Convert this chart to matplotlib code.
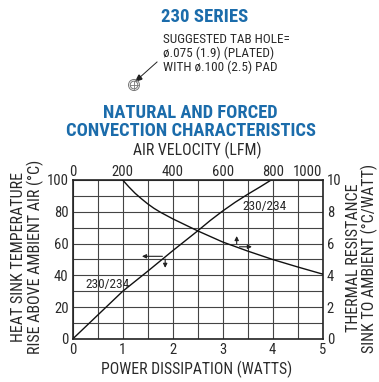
import matplotlib
matplotlib.use('Agg')
import matplotlib.pyplot as plt
from matplotlib import font_manager
from matplotlib.patches import Circle
import numpy as np

# pick a condensed sans if there is one
available = set(f.name for f in font_manager.fontManager.ttflist)
FONT = 'DejaVu Sans'
for name in ['Liberation Sans Narrow', 'DejaVu Sans Condensed', 'Roboto Condensed', 'Liberation Sans']:
    if name in available:
        FONT = name
        break
plt.rcParams['font.family'] = [FONT, 'DejaVu Sans']

BLUE = '#1b6cab'
TXT = '#2a2a2a'

# temperature rise vs power (bottom / left axes)
power_w = [0, 0.5, 1.0, 1.5, 2.0, 2.5, 2.75, 3.0, 3.25, 3.5, 3.75, 3.97]
temp_rise_c = [0, 15, 30, 42.6, 55.5, 68, 74.5, 80.5, 86, 91, 95.7, 100]

# thermal resistance vs air velocity (top / right axes)
air_lfm = [200, 225, 250, 275, 300, 325, 350, 400, 450, 500, 600, 700, 800, 900, 1000]
resist_cw = [10, 9.56, 9.16, 8.82, 8.5, 8.22, 7.98, 7.56, 7.18, 6.8, 6.1, 5.53, 5.0, 4.53, 4.08]

power_ticks = [0, 1, 2, 3, 4, 5]
temp_ticks = [0, 20, 40, 60, 80, 100]
lfm_ticks = [0, 200, 400, 600, 800, 1000]
res_ticks = [0, 2, 4, 6, 8, 10]

fig = plt.figure(figsize=(3.79, 3.82), dpi=100)
pos = [0.1918, 0.1126, 0.6596, 0.4162]

ax = fig.add_axes(pos)
ax.set_xlim(0, 5)
ax.set_ylim(0, 100)
ax.set_xticks(power_ticks)
ax.set_yticks(temp_ticks)
ax.set_xticks(np.arange(0, 5.01, 0.5), minor=True)
ax.set_yticks(np.arange(0, 101, 10), minor=True)
ax.grid(which='both', color='#444444', linewidth=0.8)
ax.tick_params(which='both', length=0, labelsize=10.5, colors=TXT, pad=3)
for s in ax.spines.values():
    s.set_linewidth(1.2)
    s.set_color('#222222')
ax.plot(power_w, temp_rise_c, color='#111111', lw=1.0)

ax2 = fig.add_axes(pos, frameon=False)
ax2.set_xlim(0, 1000)
ax2.set_ylim(0, 10)
ax2.xaxis.tick_top()
ax2.yaxis.tick_right()
ax2.set_xticks(lfm_ticks)
ax2.set_yticks(res_ticks)
ax2.tick_params(length=0, labelsize=10.5, colors=TXT, pad=3)
ax2.tick_params(axis='x', pad=1)
ax2.get_xticklabels()[-1].set_ha('right')
ax2.plot(air_lfm, resist_cw, color='#111111', lw=1.0)

# curve labels and direction arrows
ax.text(0.25, 30, '230/234', fontsize=9.5, color=TXT, va='bottom')
ax2.text(680, 7.95, '230/234', fontsize=9.5, color=TXT, va='bottom')
arr = dict(arrowstyle='-|>', color='#222222', lw=0.8, mutation_scale=6)
ax.annotate('', xy=(1.33, 52), xytext=(1.85, 52), arrowprops=arr)
ax.annotate('', xy=(1.85, 43), xytext=(1.85, 52), arrowprops=arr)
ax2.annotate('', xy=(656, 6.65), xytext=(656, 5.8), arrowprops=arr)
ax2.annotate('', xy=(728, 5.8), xytext=(656, 5.8), arrowprops=arr)

# axis titles
fig.text(197 / 379, 1 - 150 / 382, 'AIR VELOCITY (LFM)', fontsize=11.3,
         color=TXT, ha='center', va='center')
fig.text(197 / 379, 1 - 369 / 382, 'POWER DISSIPATION (WATTS)', fontsize=11.3,
         color=TXT, ha='center', va='center')
fig.text(27.5 / 379, 1 - 257 / 382, 'HEAT SINK TEMPERATURE\nRISE ABOVE AMBIENT AIR (°C)',
         fontsize=11.5, color=TXT, rotation=90, ha='center', va='center',
         linespacing=1.0)
fig.text(362 / 379, 1 - 258 / 382, 'THERMAL RESISTANCE\nSINK TO AMBIENT (°C/WATT)',
         fontsize=11.5, color=TXT, rotation=90, ha='center', va='center',
         linespacing=1.0)

# headings
fig.text(205 / 379, 1 - 17 / 382, '230 SERIES', fontsize=13.5, fontweight='bold',
         color=BLUE, ha='center', va='center')
fig.text(190 / 379, 1 - 113 / 382, 'NATURAL AND FORCED', fontsize=13.3,
         fontweight='bold', color=BLUE, ha='center', va='center')
fig.text(191 / 379, 1 - 131 / 382, 'CONVECTION CHARACTERISTICS', fontsize=13.3,
         fontweight='bold', color=BLUE, ha='center', va='center')

# tab hole note
fig.text(163 / 379, 1 - 33 / 382,
         'SUGGESTED TAB HOLE=\nø.075 (1.9) (PLATED)\nWITH ø.100 (2.5) PAD',
         fontsize=9.5, color=TXT, ha='left', va='top', linespacing=1.05)
fig.add_artist(plt.Line2D([157 / 379, 138 / 379], [1 - 62 / 382, 1 - 79 / 382],
                          color='#222222', lw=0.7))
fig.patches.append(plt.Polygon([[136 / 379, 1 - 81 / 382], [142 / 379, 1 - 79 / 382],
                                [139 / 379, 1 - 75 / 382]], closed=True,
                               color='#222222', transform=fig.transFigure))
cx, cy = 134, 85
for r in (5.5, 3.8):
    fig.patches.append(Circle((cx / 379, 1 - cy / 382), r / 379, fill=False,
                              ec='#777777', lw=0.7, transform=fig.transFigure))
fig.add_artist(plt.Line2D([(cx - 4) / 379, (cx + 4) / 379], [1 - cy / 382] * 2,
                          color='#777777', lw=0.6))
fig.add_artist(plt.Line2D([cx / 379] * 2, [1 - (cy - 4) / 382, 1 - (cy + 4) / 382],
                          color='#777777', lw=0.6))

fig.savefig('out.png', dpi=100)
